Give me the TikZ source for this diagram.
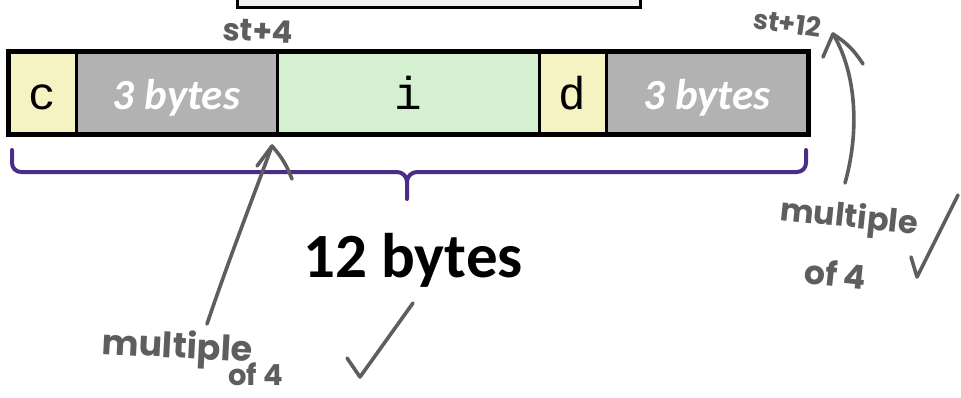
\documentclass[tikz,border=0pt]{standalone}
\usepackage{fontspec}
\setmainfont{Carlito}
\newfontfamily\codefont{Liberation Mono}
\newfontfamily\handfont{Poppins}
\definecolor{cellyellow}{HTML}{F5F3C1}
\definecolor{cellgreen}{HTML}{D5EFD1}
\definecolor{cellgray}{HTML}{B2B2B2}
\definecolor{topgray}{HTML}{F2F2F2}
\definecolor{bracepurple}{HTML}{4B2C86}
\definecolor{ink}{HTML}{5E5E5E}
\tikzset{
  cell/.style={draw=black, line width=3, minimum height=83, inner sep=0, outer sep=0,
               anchor=west, text height=33, text depth=0},
  monocell/.style={cell, font=\codefont\fontsize{46}{46}\selectfont},
  padcell/.style={cell, fill=cellgray, text=white,
                  font=\bfseries\itshape\fontsize{43}{43}\selectfont},
  brace/.style={draw=bracepurple, line width=4, line cap=round, line join=round},
  pen/.style={draw=ink, line width=3.6, line cap=round, line join=round},
  hand/.style={text=ink, inner sep=0, font=\handfont\bfseries\fontsize{#1}{#1}\selectfont},
}
\begin{document}
\begin{tikzpicture}[x=1pt,y=-1pt]
\useasboundingbox (0,0) rectangle (961,397);

% box of the structure above (only its lower edge is visible)
\fill[topgray] (237,0) rectangle (640,7);
\draw[line width=3] (237,0) -- (237,7) -- (640,7) -- (640,0);

% memory layout of the struct
\node[monocell, fill=cellyellow, minimum width=68]  (c)    at (8,93)     {c};
\node[padcell, minimum width=201]                   (pad1) at (c.east)   {3 bytes};
\node[monocell, fill=cellgreen, minimum width=262]  (i)    at (pad1.east) {i};
\node[monocell, fill=cellyellow, minimum width=67]  (d)    at (i.east)   {d};
\node[padcell, minimum width=202]                   (pad2) at (d.east)   {3 bytes};
\draw[line width=5] (c.north west) rectangle (pad2.south east);

% brace under the whole struct
\coordinate (bl) at (12,150);
\coordinate (br) at (806,150);
\coordinate (bm) at (407,199);
\draw[brace] (bl) -- (12,163) to[out=-90,in=180] (21,172) -- (397,172)
             to[out=0,in=90] (bm |- 0,182) -- (bm);
\draw[brace] (br) -- (806,163) to[out=-90,in=0] (797,172) -- (417,172)
             to[out=180,in=90] (bm |- 0,182);
\node[font=\bfseries\fontsize{63}{63}\selectfont, anchor=base] (size) at (413,277) {12 bytes};

% handwritten offsets
\node[hand=31, anchor=base west, rotate=-3] (off4)  at (222,40) {st+4};
\node[hand=27, anchor=base west, rotate=-8] (off12) at (752,28) {st+12};

% note on the offset of i
\node[hand=35, anchor=base west, rotate=-3] (multL) at (101,354) {multiple};
\node[hand=29, anchor=base west] (ofL) at (228,385) {of 4};
\coordinate (tailL) at (207,324);
\coordinate (tipL) at (272,146);
\draw[pen] (tailL) .. controls (228,262) and (252,200) .. (tipL);
\draw[pen] (tipL) -- (257,166);
\draw[pen] (tipL) to[bend left=10] (292,179);
\coordinate (chkL) at (360,377);
\draw[pen] (347,358) -- (chkL) -- (413,303);

% note on the total size
\node[hand=32, anchor=base west, rotate=-6] (multR) at (779,220) {multiple};
\node[hand=33, anchor=base west, rotate=-6] (ofR)   at (803,283) {of 4};
\coordinate (tailR) at (845,183);
\coordinate (tipR) at (833,34);
\draw[pen] (tailR) .. controls (860,130) and (856,72) .. (tipR);
\draw[pen] (tipR) -- (823,57);
\draw[pen] (tipR) to[bend left=12] (863,64);
\coordinate (chkR) at (917,277);
\draw[pen] (911,257) -- (chkR) -- (958,195);
\end{tikzpicture}
\end{document}
